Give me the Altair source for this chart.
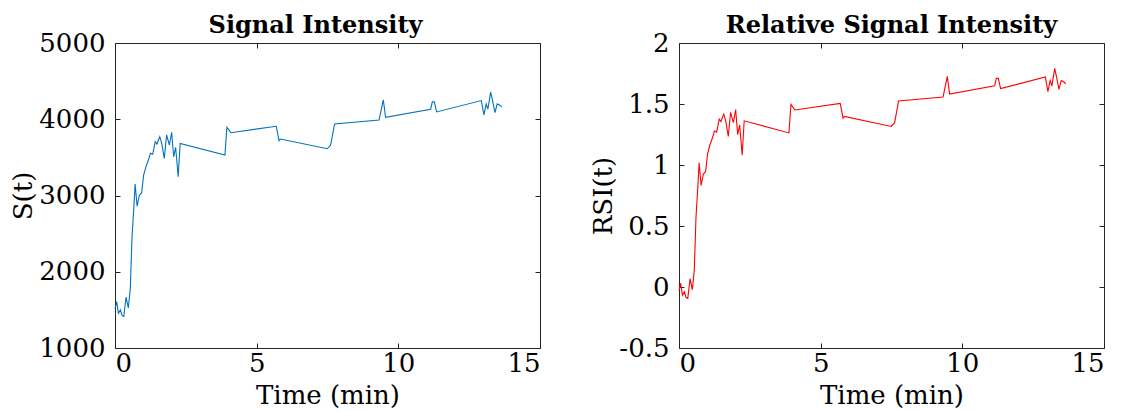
import altair as alt
import pandas as pd

# ---- data ----
time_min = [0.00, 0.06, 0.12, 0.19, 0.25, 0.31, 0.39, 0.47, 0.54, 0.60,
            0.66, 0.71, 0.78, 0.86, 0.94, 1.01, 1.09, 1.18, 1.25, 1.33,
            1.42, 1.48, 1.58, 1.65, 1.74, 1.82, 1.92, 2.00, 2.07, 2.14,
            2.23, 2.30, 3.88, 3.95, 4.09, 5.69, 5.79, 5.84, 7.49, 7.61,
            7.75, 9.32, 9.47, 9.55, 11.14, 11.20, 11.27, 11.35, 12.93, 13.02,
            13.10, 13.16, 13.26, 13.34, 13.41, 13.49, 13.58, 13.65]

signal = [1513, 1608, 1455, 1500, 1424, 1415, 1666, 1526, 1776, 2455,
          2807, 3149, 2859, 3004, 3034, 3267, 3376, 3465, 3553, 3540,
          3706, 3675, 3771, 3684, 3487, 3794, 3662, 3829, 3508, 3632,
          3245, 3684, 3530, 3895, 3824, 3908, 3719, 3741, 3613, 3662,
          3938, 3991, 4254, 4026, 4132, 4228, 4228, 4096, 4245, 4057,
          4201, 4132, 4356, 4219, 4087, 4201, 4184, 4158]

rsi = [-0.030, 0.031, -0.067, -0.038, -0.087, -0.093, 0.068, -0.022, 0.138, 0.574,
       0.799, 1.019, 0.833, 0.926, 0.945, 1.094, 1.164, 1.221, 1.278, 1.269,
       1.376, 1.356, 1.417, 1.362, 1.235, 1.432, 1.347, 1.455, 1.249, 1.328,
       1.080, 1.362, 1.263, 1.497, 1.451, 1.505, 1.384, 1.398, 1.316, 1.347,
       1.524, 1.558, 1.727, 1.581, 1.649, 1.710, 1.710, 1.626, 1.721, 1.601,
       1.693, 1.649, 1.792, 1.704, 1.620, 1.693, 1.682, 1.665]

x_ticks = [0, 5, 10, 15]
s_ticks = [1000, 2000, 3000, 4000, 5000]
rsi_ticks = [-0.5, 0, 0.5, 1, 1.5, 2]

df = pd.DataFrame({"t": time_min, "S": signal, "RSI": rsi})

FONT = "DejaVu Serif"
INK = "#262626"
W, H = 425, 305
FS = 26


def panel(ycol, color, ydomain, yvals, ytitle, title, title_dx):
    xs = alt.Scale(domain=[0, 15], nice=False, zero=False)
    ys = alt.Scale(domain=ydomain, nice=False, zero=False)
    base = alt.Chart(df)

    main = base.mark_line(color=color, strokeWidth=1.1).encode(
        x=alt.X("t:Q", scale=xs, axis=alt.Axis(
            orient="bottom", values=x_ticks, title="Time (min)", ticks=False,
            tickSize=0, domain=False, grid=False, labelPadding=2, titlePadding=6,
            labelFont=FONT, titleFont=FONT, labelFontSize=FS, titleFontSize=FS,
            titleFontWeight="normal", labelColor="black", titleColor="black")),
        y=alt.Y(f"{ycol}:Q", scale=ys, axis=alt.Axis(
            orient="left", values=yvals, title=ytitle, ticks=False, tickSize=0,
            domain=False, grid=False, labelPadding=10, titlePadding=2,
            labelExpr="toString(datum.value)",
            labelFont=FONT, titleFont=FONT, labelFontSize=FS, titleFontSize=FS,
            titleFontWeight="normal", labelColor="black", titleColor="black")),
    )

    # inward ticks + frame lines on all four sides
    tick_common = dict(labels=False, title=None, ticks=True, tickSize=5,
                       tickColor=INK, tickWidth=1, domain=True,
                       domainColor=INK, domainWidth=1, grid=False)

    ticks_a = base.mark_line(opacity=0).encode(
        x=alt.X("t:Q", scale=xs, axis=alt.Axis(orient="top", offset=-H,
                                               values=x_ticks, **tick_common)),
        y=alt.Y(f"{ycol}:Q", scale=ys, axis=alt.Axis(orient="right", offset=-W,
                                                     values=yvals, **tick_common)),
    )
    ticks_b = base.mark_line(opacity=0).encode(
        x=alt.X("t:Q", scale=xs, axis=alt.Axis(orient="bottom", offset=-H,
                                               values=x_ticks, **tick_common)),
        y=alt.Y(f"{ycol}:Q", scale=ys, axis=alt.Axis(orient="left", offset=-W,
                                                     values=yvals, **tick_common)),
    )

    return alt.layer(main, ticks_a, ticks_b).resolve_axis(
        x="independent", y="independent"
    ).properties(
        width=W, height=H,
        title=alt.TitleParams(title, font=FONT, fontSize=24, fontWeight="bold",
                              color="black", offset=-8, anchor="middle", dx=title_dx),
    )


left = panel("S", "#0072BD", [1000, 5000], s_ticks, "S(t)", "Signal Intensity", -12)
right = panel("RSI", "#FF0000", [-0.5, 2], rsi_ticks, "RSI(t)",
              "Relative Signal Intensity", 0)

chart = alt.hconcat(left, right, spacing=49).properties(
    padding={"left": 2, "top": 5, "right": 0, "bottom": 0}
).configure_view(
    strokeWidth=0
).configure(background="white")

chart.save("out.html", embed_options={"renderer": "svg", "actions": False})
